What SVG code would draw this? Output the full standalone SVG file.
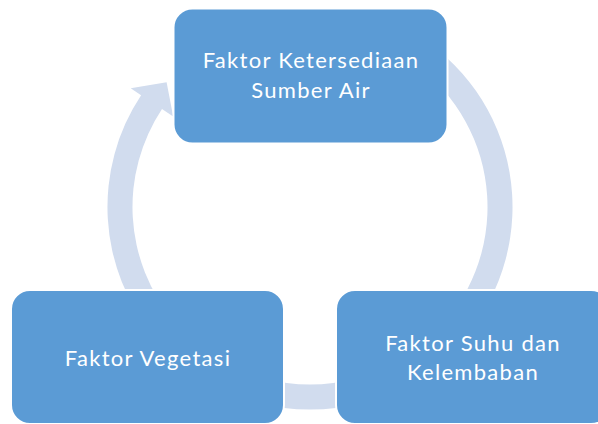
<svg xmlns="http://www.w3.org/2000/svg" width="598" height="424" viewBox="0 0 598 424">
<style>
.arc{fill:#D1DCEE;stroke:none}
.box{fill:#5B9BD5;stroke:#FFFFFF;stroke-width:2}
.lbl{font-family:Lato,"Liberation Sans",sans-serif;font-size:22px;letter-spacing:1.3px;fill:#FFFFFF;text-anchor:middle}
</style>
<rect width="598" height="424" fill="#FFFFFF"/>
<g id="connectors">
<path class="arc" d="M 411.25 31.6 A 202.5 202.5 0 0 1 465.1 337.2 L 446.0 321.1 A 177.5 177.5 0 0 0 398.75 53.3 Z"/>
<path class="arc" d="M 411.25 382.4 A 202.5 202.5 0 0 1 208.75 382.4 L 221.25 360.7 A 177.5 177.5 0 0 0 398.75 360.7 Z"/>
<path class="arc" d="M 154.9 337.2 A 202.5 202.5 0 0 1 141.1 95.2 L 130.7 88.3 L 166.6 82.3 L 173.2 116.5 L 162.0 109.0 A 177.5 177.5 0 0 0 174.0 321.1 Z"/>
</g>
<g id="node-air">
<rect class="box" x="173.5" y="8.5" width="274" height="135" rx="19"/>
<text class="lbl" x="311" y="68">Faktor Ketersediaan</text>
<text class="lbl" x="311" y="98">Sumber Air</text>
</g>
<g id="node-suhu">
<rect class="box" x="336" y="290" width="274" height="134" rx="19"/>
<text class="lbl" x="473" y="351">Faktor Suhu dan</text>
<text class="lbl" x="473" y="380">Kelembaban</text>
</g>
<g id="node-vegetasi">
<rect class="box" x="11" y="290" width="273" height="134" rx="19"/>
<text class="lbl" x="148" y="366">Faktor Vegetasi</text>
</g>
</svg>
